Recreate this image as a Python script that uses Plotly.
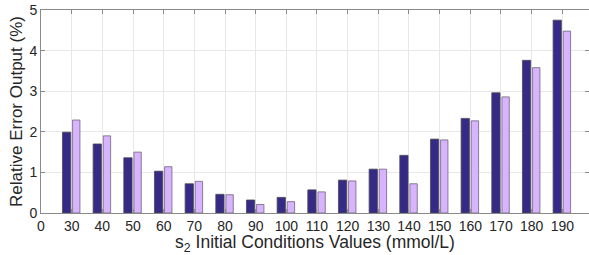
import plotly.graph_objects as go

tick_labels = ['0', '30', '40', '50', '60', '70', '80', '90', '100', '110',
               '120', '130', '140', '150', '160', '170', '180', '190']
s2_values = [30, 40, 50, 60, 70, 80, 90, 100, 110, 120, 130, 140, 150, 160, 170, 180, 190]
err_series1 = [1.99, 1.70, 1.36, 1.03, 0.72, 0.46, 0.32, 0.385, 0.57, 0.81,
               1.08, 1.42, 1.82, 2.33, 2.96, 3.76, 4.75]
err_series2 = [2.29, 1.90, 1.50, 1.14, 0.78, 0.45, 0.21, 0.28, 0.52, 0.79,
               1.08, 0.72, 1.80, 2.27, 2.86, 3.58, 4.48]

# categorical positions (MATLAB-style bar index)
pos = list(range(1, len(s2_values) + 1))

fig = go.Figure()
fig.add_trace(go.Bar(x=pos, y=err_series1, width=0.27, offset=-0.30,
                     marker=dict(color='#352a87', line=dict(color='#4a4a4a', width=0.8))))
fig.add_trace(go.Bar(x=pos, y=err_series2, width=0.24, offset=0.03,
                     marker=dict(color='#d8b4fe', line=dict(color='#6e6478', width=0.8))))

font_fam = 'Liberation Sans, Arial'
axis_common = dict(showline=True, linecolor='#8a8a8a', linewidth=1, mirror='ticks',
                   ticks='inside', ticklen=4, tickcolor='#8a8a8a', automargin=False,
                   showgrid=True, gridcolor='#e8e8e8', gridwidth=1, zeroline=False,
                   ticklabeloverflow='allow',
                   tickfont=dict(family=font_fam, size=14, color='#262626'))

fig.update_layout(
    width=589, height=255,
    margin=dict(l=41, r=0, t=10, b=42),
    paper_bgcolor='white', plot_bgcolor='white',
    barmode='overlay', showlegend=False,
    xaxis=dict(range=[0, 17.87], tickmode='array', tickvals=list(range(len(tick_labels))),
               ticktext=tick_labels, ticklabelstandoff=0,
               title=dict(text='s<sub>2</sub> Initial Conditions Values (mmol/L)',
                          font=dict(family=font_fam, size=17.5, color='#262626'),
                          standoff=0),
               **axis_common),
    yaxis=dict(range=[0, 5], tickvals=[0, 1, 2, 3, 4, 5], ticklabelstandoff=0,
               title=dict(text='Relative Error Output (%)',
                          font=dict(family=font_fam, size=17, color='#262626'),
                          standoff=2),
               **axis_common),
)

# remove the browser's default 8px body margin so the figure sits at the page corner
fig.write_html('out.html', config={'displayModeBar': False},
               post_script="document.body.style.margin='0';")
